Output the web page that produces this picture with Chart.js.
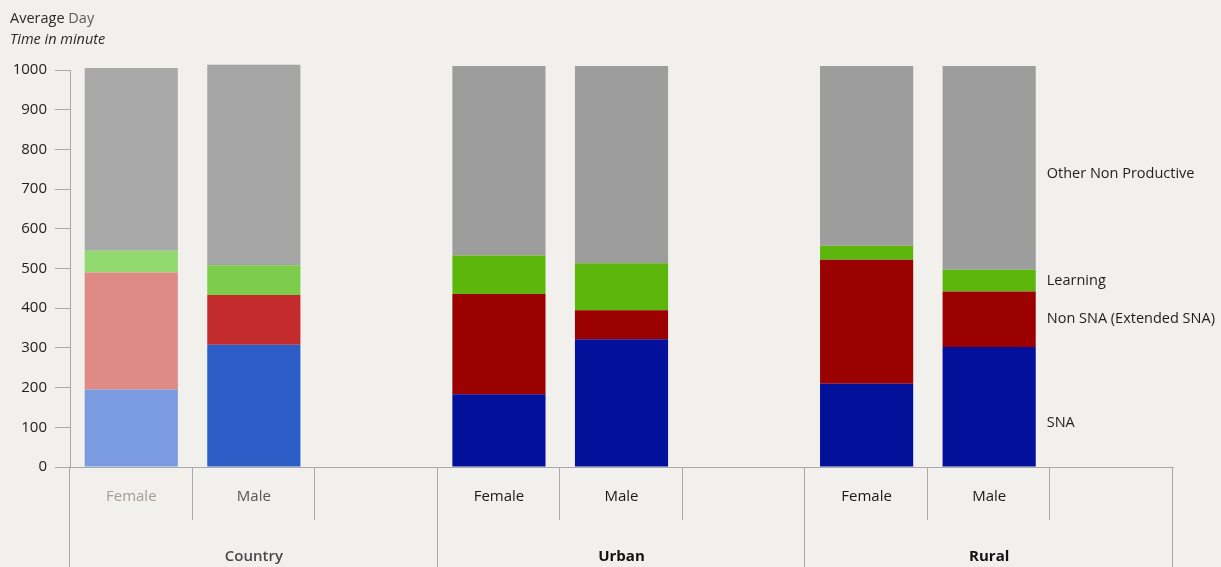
<!DOCTYPE html>
<html>
<head>
<meta charset="utf-8">
<script src="https://cdn.jsdelivr.net/npm/chart.js@4"></script>
<style>
    html, body { margin: 0; padding: 0; background: #f1f0ec; }
    #wrap { position: relative; width: 1221px; height: 567px; }
</style>
</head>
<body>
<div id="wrap"><canvas id="chart" width="1221" height="567"></canvas></div>
<script>
// bars in order: Country F, Country M, Urban F, Urban M, Rural F, Rural M
const groups = ["Country", "Urban", "Rural"];
const genders = ["Female", "Male"];
const seriesNames = ["SNA", "Non SNA (Extended SNA)", "Learning", "Other Non Productive"];

const sna = [195, 308, 183, 322, 210, 302];
const nonSna = [295, 125, 253, 73, 312, 140];
const learning = [55, 75, 97, 118, 35, 55];
const otherNonProductive = [460, 505, 477, 497, 453, 513];

const yTickStep = 100;
const yMax = 1000;

// colours (country bars are printed lighter)
const snaColors = ["#7b9be0", "#2c5cc6", "#03109a", "#03109a", "#03109a", "#03109a"];
const nonSnaColors = ["#e08a86", "#c32b2d", "#9b0101", "#9b0101", "#9b0101", "#9b0101"];
const learningColors = ["#92d970", "#7ccd4b", "#5db60b", "#5db60b", "#5db60b", "#5db60b"];
const otherColors = ["#a9a9a9", "#a5a5a5", "#9d9d9d", "#9d9d9d", "#9d9d9d", "#9d9d9d"];

const FONT = '"Open Sans", sans-serif';
Chart.defaults.font.family = FONT;

// each group gets Female, Male and an empty slot
const slotLabels = [];
groups.forEach(() => { genders.forEach((g) => slotLabels.push(g)); slotLabels.push(""); });

function spread(arr) {
    const out = [];
    groups.forEach((g, gi) => {
        genders.forEach((_, k) => out.push(arr[gi * genders.length + k]));
        out.push(null);
    });
    return out;
}

const seriesValues = [sna, nonSna, learning, otherNonProductive];
const seriesColors = [snaColors, nonSnaColors, learningColors, otherColors];

const datasets = seriesNames.map((name, i) => ({
    label: name,
    data: spread(seriesValues[i]),
    backgroundColor: spread(seriesColors[i]),
    borderWidth: 0,
    clip: false,
    categoryPercentage: 1,
    barPercentage: 0.76,
}));

const groupAxis = {
    id: "groupAxis",
    afterDraw(chart) {
        const { ctx, chartArea: a, scales: { x } } = chart;
        const step = x.getPixelForValue(1) - x.getPixelForValue(0);
        ctx.save();
        ctx.strokeStyle = "#a8a8a8";
        ctx.lineWidth = 1;
        for (let i = 0; i <= slotLabels.length; i++) {
            const px = Math.round(a.left + i * step) - 0.5;
            const tall = i % 3 === 0;
            ctx.beginPath();
            ctx.moveTo(px, a.bottom);
            ctx.lineTo(px, tall ? chart.height : a.bottom + 53);
            ctx.stroke();
        }

        ctx.textAlign = "center";
        ctx.textBaseline = "middle";
        slotLabels.forEach((lab, i) => {
            if (!lab) return;
            const gi = Math.floor(i / 3);
            ctx.font = "15px " + FONT;
            ctx.fillStyle = gi === 0 ? (i === 0 ? "#a59c94" : "#555") : "#1a1a1a";
            ctx.fillText(lab, x.getPixelForValue(i), a.bottom + 30);
        });
        groups.forEach((g, gi) => {
            const cx = a.left + (gi * 3 + 1.5) * step;
            ctx.font = (gi === 0 ? "600 " : "bold ") + "15px " + FONT;
            ctx.fillStyle = gi === 0 ? "#4a4a4a" : "#111";
            ctx.fillText(g, cx, a.bottom + 90);
        });

        // series names beside the last bar
        const last = slotLabels.length - 2;
        const nudge = [16, 0, 0, 6];
        ctx.textAlign = "left";
        ctx.font = "14.5px " + FONT;
        ctx.fillStyle = "#1e1e1e";
        seriesNames.forEach((name, d) => {
            const bar = chart.getDatasetMeta(d).data[last];
            const mid = (bar.y + bar.base) / 2 + nudge[d];
            ctx.fillText(name, bar.x + bar.width / 2 + 11, mid);
        });

        // titles
        ctx.font = "14.5px " + FONT;
        ctx.fillStyle = "#2a2a2a";
        ctx.fillText("Average", 10, 19);
        const w = ctx.measureText("Average ").width;
        ctx.fillStyle = "#5a5a5a";
        ctx.fillText("Day", 10 + w, 19);
        ctx.font = "italic 14.5px " + FONT;
        ctx.fillStyle = "#2a2a2a";
        ctx.fillText("Time in minute", 10, 40);
        ctx.restore();
    },
};

new Chart(document.getElementById("chart"), {
    type: "bar",
    data: { labels: slotLabels, datasets },
    options: {
        responsive: false,
        animation: false,
        devicePixelRatio: 1,
        layout: { padding: { top: 70, right: 48, bottom: 0, left: 0 } },
        plugins: { legend: { display: false }, tooltip: { enabled: false } },
        scales: {
            x: {
                stacked: true,
                afterFit: (s) => { s.height = 100; },
                ticks: { display: false },
                grid: { display: false },
                border: { color: "#a8a8a8" },
            },
            y: {
                stacked: true,
                min: 0,
                max: yMax,
                afterFit: (s) => { s.width = 70; },
                ticks: {
                    stepSize: yTickStep,
                    color: "#222",
                    font: { size: 15 },
                    padding: 8,
                    callback: (v) => String(v),
                },
                grid: { drawOnChartArea: false, tickLength: 15, color: "#a8a8a8" },
                border: { color: "#a8a8a8" },
            },
        },
    },
    plugins: [groupAxis],
});
</script>
</body>
</html>
